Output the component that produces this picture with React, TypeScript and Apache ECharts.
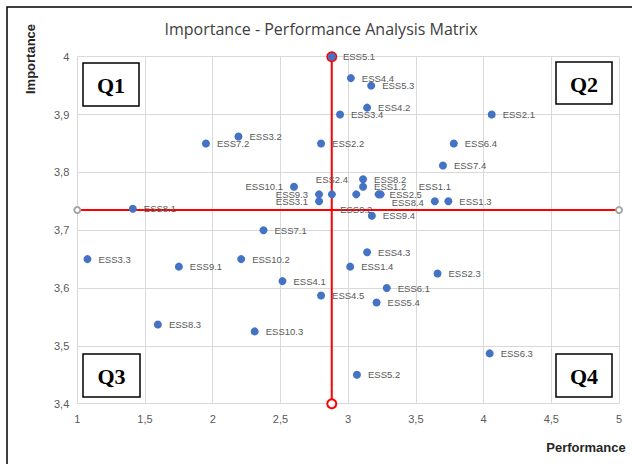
import React, { useEffect, useRef } from "react";
import * as echarts from "echarts";

const names = [
  "ESS5.1", "ESS4.4", "ESS5.3", "ESS4.2", "ESS3.4", "ESS2.1", "ESS7.2", "ESS3.2",
  "ESS2.2", "ESS6.4", "ESS7.4", "ESS8.2", "ESS1.2", "ESS10.1", "ESS9.3", "ESS3.1",
  "ESS2.4", "ESS9.2", "ESS2.5", "ESS8.4", "ESS1.1", "ESS1.3", "ESS8.1", "ESS9.4",
  "ESS7.1", "ESS3.3", "ESS9.1", "ESS10.2", "ESS4.3", "ESS1.4", "ESS2.3", "ESS4.1",
  "ESS6.1", "ESS4.5", "ESS5.4", "ESS8.3", "ESS10.3", "ESS6.3", "ESS5.2",
];
const performance = [
  2.88, 3.02, 3.17, 3.14, 2.94, 4.06, 1.95, 2.19,
  2.8, 3.78, 3.7, 3.11, 3.11, 2.6, 2.785, 2.785,
  2.88, 3.06, 3.225, 3.24, 3.64, 3.74, 1.41, 3.175,
  2.375, 1.075, 1.75, 2.21, 3.14, 3.015, 3.66, 2.515,
  3.285, 2.8, 3.21, 1.595, 2.31, 4.045, 3.065,
];
const importance = [
  4.0, 3.963, 3.95, 3.912, 3.9, 3.9, 3.85, 3.862,
  3.85, 3.85, 3.812, 3.788, 3.775, 3.775, 3.762, 3.75,
  3.762, 3.762, 3.762, 3.762, 3.75, 3.75, 3.737, 3.725,
  3.7, 3.65, 3.637, 3.65, 3.662, 3.637, 3.625, 3.612,
  3.6, 3.587, 3.575, 3.537, 3.525, 3.487, 3.45,
];
const meanPerformance = 2.879;
const meanImportance = 3.735;
const xTicks = { min: 1, max: 5, step: 0.5 };
const yTicks = { min: 3.4, max: 4, step: 0.1 };
const quadrants = ["Q1", "Q2", "Q3", "Q4"];

const labelOverrides: Record<string, any> = {
  "ESS2.4": { position: "top", distance: 6 },
  "ESS9.2": { position: "bottom", distance: 6 },
  "ESS1.1": { position: "top", distance: 6 },
  "ESS8.4": { position: "right", distance: 7, offset: [0, 8] },
  "ESS10.1": { position: "left", distance: 7 },
  "ESS9.3": { position: "left", distance: 7 },
  "ESS3.1": { position: "left", distance: 7 },
};

const quadBoxes = [
  { x: 83, y: 63, w: 56, h: 43 },
  { x: 556, y: 62, w: 56, h: 42 },
  { x: 83, y: 354, w: 57, h: 43 },
  { x: 556, y: 354, w: 56, h: 43 },
];

const fmt = (v: number) => String(Math.round(v * 10) / 10).replace(".", ",");

export default function App() {
  const ref = useRef<HTMLDivElement>(null);
  useEffect(() => {
    document.body.style.margin = "0";
    if (!ref.current) return;
    const chart = echarts.init(ref.current, null, { renderer: "svg" });
    const scatterData = names.map((n, i) => {
      const item: any = { name: n, value: [performance[i], importance[i]] };
      if (labelOverrides[n]) item.label = labelOverrides[n];
      return item;
    });
    const graphics: any[] = [
      {
        type: "rect",
        x: 7,
        y: 7,
        shape: { width: 700, height: 600 },
        style: { fill: "none", stroke: "#000", lineWidth: 1.5 },
        z: 100,
      },
      {
        type: "text",
        x: 321,
        y: 29,
        style: {
          text: "Importance - Performance Analysis Matrix",
          fill: "#404040",
          font: "16px 'Open Sans', 'Liberation Sans', Arial, sans-serif",
          align: "center",
          verticalAlign: "middle",
        },
      },
      {
        type: "text",
        x: 30,
        y: 59,
        rotation: Math.PI / 2,
        style: {
          text: "Importance",
          fill: "#262626",
          font: "bold 13px 'Liberation Sans', Arial, sans-serif",
          align: "center",
          verticalAlign: "middle",
        },
      },
      {
        type: "text",
        x: 586,
        y: 447,
        style: {
          text: "Performance",
          fill: "#262626",
          font: "bold 13px 'Liberation Sans', Arial, sans-serif",
          align: "center",
          verticalAlign: "middle",
        },
      },
    ];
    quadBoxes.forEach((b, i) => {
      graphics.push({
        type: "rect",
        x: b.x,
        y: b.y,
        shape: { width: b.w, height: b.h },
        style: { fill: "#fff", stroke: "#000", lineWidth: 1.5 },
        z: 50,
      });
      graphics.push({
        type: "text",
        x: b.x + b.w / 2,
        y: b.y + b.h / 2 + 1,
        style: {
          text: quadrants[i],
          fill: "#000",
          font: "bold 22px 'Liberation Serif', 'Times New Roman', serif",
          align: "center",
          verticalAlign: "middle",
        },
        z: 51,
      });
    });
    chart.setOption({
      animation: false,
      grid: { left: 77.3, right: 13, top: 56.7, bottom: 60.3 },
      xAxis: {
        type: "value",
        min: xTicks.min,
        max: xTicks.max,
        interval: xTicks.step,
        axisLine: { show: true, lineStyle: { color: "#d9d9d9" } },
        axisTick: { show: false },
        splitLine: { show: true, lineStyle: { color: "#d9d9d9", width: 1 } },
        axisLabel: {
          formatter: fmt,
          color: "#595959",
          fontSize: 11,
          fontFamily: "'Liberation Sans', Arial, sans-serif",
          margin: 10,
        },
      },
      yAxis: {
        type: "value",
        min: yTicks.min,
        max: yTicks.max,
        interval: yTicks.step,
        axisLine: { show: true, lineStyle: { color: "#d9d9d9" } },
        axisTick: { show: false },
        splitLine: { show: true, lineStyle: { color: "#d9d9d9", width: 1 } },
        axisLabel: {
          formatter: fmt,
          color: "#595959",
          fontSize: 11,
          fontFamily: "'Liberation Sans', Arial, sans-serif",
          margin: 8,
        },
      },
      series: [
        {
          type: "line",
          z: 2,
          symbol: "emptyCircle",
          symbolSize: 6,
          itemStyle: { color: "#a6a6a6" },
          lineStyle: { color: "#ff0000", width: 2 },
          data: [
            [xTicks.min, meanImportance],
            [xTicks.max, meanImportance],
          ],
        },
        {
          type: "line",
          z: 2,
          symbol: "emptyCircle",
          symbolSize: 9,
          itemStyle: { color: "#ff0000" },
          lineStyle: { color: "#ff0000", width: 2 },
          data: [
            [meanPerformance, yTicks.min],
            [meanPerformance, yTicks.max],
          ],
        },
        {
          type: "scatter",
          z: 4,
          symbolSize: 8,
          itemStyle: { color: "#4472C4", opacity: 1 },
          label: {
            show: true,
            position: "right",
            distance: 7,
            formatter: "{b}",
            color: "#595959",
            fontSize: 9.5,
            fontFamily: "'Liberation Sans', Arial, sans-serif",
          },
          data: scatterData,
        },
      ],
      graphic: graphics,
    });
    return () => chart.dispose();
  }, []);
  return <div ref={ref} style={{ width: 632, height: 464 }} />;
}
